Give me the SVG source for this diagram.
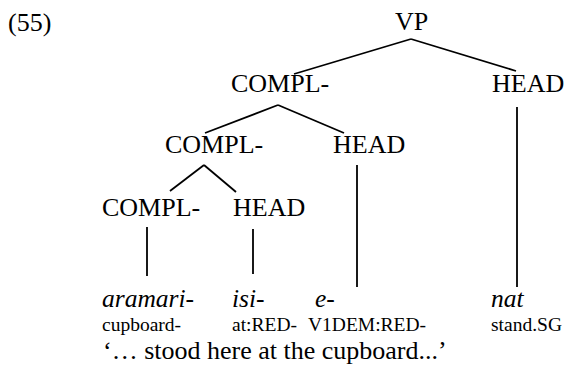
<svg xmlns="http://www.w3.org/2000/svg" width="570" height="367" viewBox="0 0 570 367">
<style>
text{font-family:'Liberation Serif','Times New Roman',serif;fill:#000}
.n{font-size:26px}
.it{font-size:25.5px;font-style:italic}
.gl{font-size:19.5px}
.ft{font-size:26px}
.e line{stroke:#000;stroke-width:1.8;stroke-linecap:butt}
</style>
<rect width="570" height="367" fill="#fff"/>
<text class="n" x="8" y="31">(55)</text>
<g class="e" id="connectors">
<line x1="411" y1="39" x2="294" y2="74"/>
<line x1="411" y1="39" x2="516" y2="71"/>
<line x1="517" y1="107" x2="517" y2="287"/>
<line x1="278" y1="105" x2="205" y2="133"/>
<line x1="278" y1="105" x2="344" y2="133"/>
<line x1="357" y1="165" x2="357" y2="287"/>
<line x1="204" y1="165" x2="170" y2="191"/>
<line x1="204" y1="165" x2="236" y2="192"/>
<line x1="147" y1="227" x2="147" y2="276"/>
<line x1="253" y1="229" x2="253" y2="274"/>
</g>
<g id="vp"><text class="n" x="395" y="30">VP</text></g>
<g id="compl1"><text class="n" x="231" y="92">COMPL-</text></g>
<g id="head1"><text class="n" x="492" y="92">HEAD</text></g>
<g id="compl2"><text class="n" x="165" y="153">COMPL-</text></g>
<g id="head2"><text class="n" x="333" y="153">HEAD</text></g>
<g id="compl3"><text class="n" x="102" y="216">COMPL-</text></g>
<g id="head3"><text class="n" x="233" y="216">HEAD</text></g>
<g id="w1"><text class="it" x="102" y="307">aramari-</text><text class="gl" x="102" y="331">cupboard-</text></g>
<g id="w2"><text class="it" x="232" y="307">isi-</text><text class="gl" x="232" y="331">at:RED-</text></g>
<g id="w3"><text class="it" x="315" y="307">e-</text><text class="gl" x="308" y="331">V1DEM:RED-</text></g>
<g id="w4"><text class="it" x="491" y="307">nat</text><text class="gl" x="491" y="331">stand.SG</text></g>
<text class="ft" x="103" y="359">‘… stood here at the cupboard...’</text>
</svg>
